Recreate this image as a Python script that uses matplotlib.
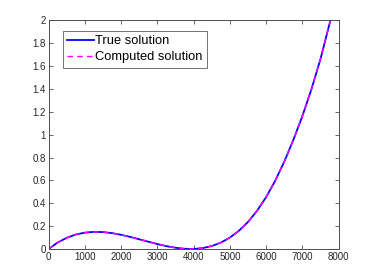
import matplotlib
matplotlib.use("Agg")
import matplotlib.pyplot as plt

x_vals = [0, 250, 500, 750, 1000, 1250, 1500, 1750, 2000, 2250, 2500, 2750,
          3000, 3250, 3500, 3750, 4000, 4250, 4500, 4750, 5000, 5250, 5500,
          5750, 6000, 6250, 6500, 6750, 7000, 7250, 7500, 7750, 7800]
true_vals = [0.0, 0.057, 0.098, 0.127, 0.143, 0.150, 0.148, 0.139, 0.124,
             0.106, 0.085, 0.064, 0.043, 0.025, 0.011, 0.002, 0.000, 0.008,
             0.026, 0.056, 0.100, 0.160, 0.237, 0.335, 0.455, 0.598, 0.765,
             0.955, 1.165, 1.400, 1.665, 1.975, 2.04]
computed_vals = list(true_vals)

x_ticks = [0, 1000, 2000, 3000, 4000, 5000, 6000, 7000, 8000]
y_ticks = [0, 0.2, 0.4, 0.6, 0.8, 1, 1.2, 1.4, 1.6, 1.8, 2]
y_tick_labels = ["0", "0.2", "0.4", "0.6", "0.8", "1", "1.2", "1.4", "1.6", "1.8", "2"]

plt.rcParams['font.family'] = ['Liberation Sans', 'DejaVu Sans']

fig = plt.figure(figsize=(3.74, 2.80), dpi=100)
ax = fig.add_axes([0.130, 0.1107, 0.7756, 0.8161])

ax.plot(x_vals, true_vals, color=(0, 0, 1), lw=1.3, label="True solution")
ax.plot(x_vals, computed_vals, color=(1, 0, 1), lw=1.0, ls=(0, (4, 3)),
        label="Computed solution")

ax.set_xlim(0, 8000)
ax.set_ylim(0, 2)
ax.set_xticks(x_ticks)
ax.set_xticklabels([str(t) for t in x_ticks])
ax.set_yticks(y_ticks)
ax.set_yticklabels(y_tick_labels)

axcol = '#4d4d4d'
for s in ax.spines.values():
    s.set_color(axcol)
    s.set_linewidth(0.7)
ax.tick_params(direction='in', length=3, width=0.6, colors=axcol,
               labelsize=7, top=True, right=True, labelcolor='#262626', pad=2)

leg = ax.legend(loc='upper left', bbox_to_anchor=(0.048, 0.955), fontsize=9.3,
                frameon=True, fancybox=False, handlelength=2.1,
                handletextpad=0.1, borderpad=0.35, labelspacing=0.3,
                borderaxespad=0)
leg.get_frame().set_edgecolor('#4d4d4d')
leg.get_frame().set_linewidth(0.7)

fig.savefig("out.png", dpi=100)
